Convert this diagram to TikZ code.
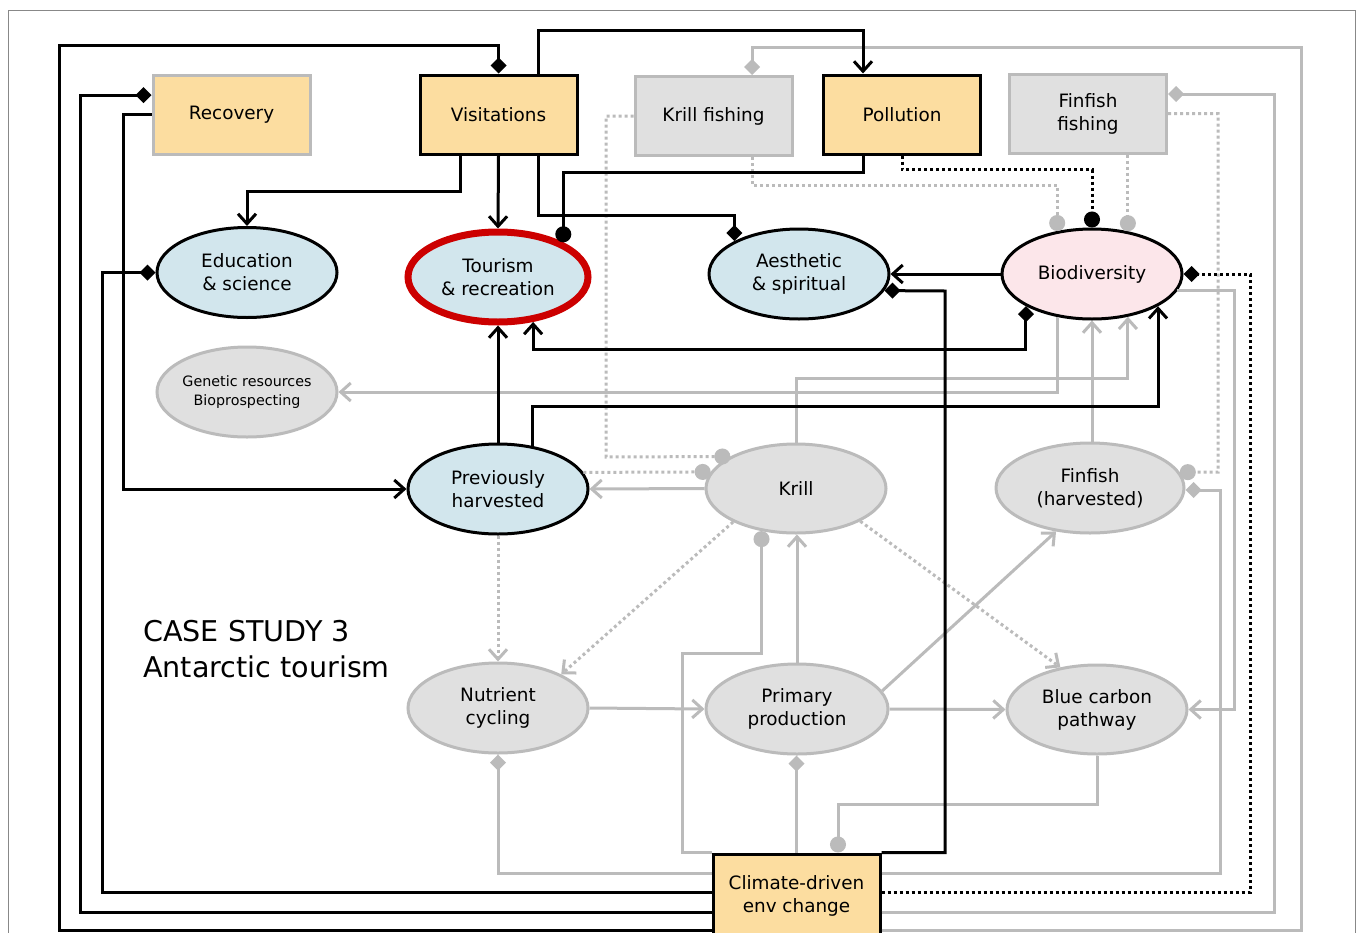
\documentclass[tikz,border=0pt]{standalone}
\usepackage{fontspec}
\setmainfont{DejaVu Sans}
\usetikzlibrary{arrows.meta,shapes.geometric}
\definecolor{orangefill}{HTML}{FCDDA0}
\definecolor{bluefill}{HTML}{D2E6ED}
\definecolor{grayfill}{HTML}{E0E0E0}
\definecolor{pinkfill}{HTML}{FCE6EA}
\definecolor{gline}{HTML}{BBBBBB}
\definecolor{redline}{HTML}{CC0000}
\definecolor{framec}{HTML}{888888}
\begin{document}
\begin{tikzpicture}[x=1pt,y=-1pt]
\tikzset{
 every node/.style={font=\fontsize{18.4}{23}\selectfont, align=center},
 obox/.style={rectangle, fill=orangefill, draw=black, line width=3pt, minimum width=157pt, minimum height=79pt, inner sep=0pt},
 gbox/.style={rectangle, fill=grayfill, draw=gline, line width=3pt, minimum width=157pt, minimum height=79pt, inner sep=0pt},
 bell/.style={ellipse, fill=bluefill, draw=black, line width=3pt, minimum width=180pt, minimum height=90pt, inner sep=0pt},
 gell/.style={ellipse, fill=grayfill, draw=gline, line width=3pt, minimum width=180pt, minimum height=90pt, inner sep=0pt},
 blk/.style={draw=black, line width=3pt},
 gry/.style={draw=gline, line width=3pt},
 dots/.style={dash pattern=on 3pt off 3pt},
 ar/.style={-{Straight Barb[length=10pt,width=18pt]}},
 di/.style={-{Turned Square[length=16pt,width=16pt]}},
 ci/.style={-{Circle[length=16pt]}},
 diar/.style={{Turned Square[length=16pt,width=16pt]}-{Straight Barb[length=10pt,width=18pt]}},
}
\useasboundingbox (0,0) rectangle (1360,932);
\clip (0,0) rectangle (1360,932);
\draw[framec, line width=1pt] (8,945) -- (8,10) -- (1355,10) -- (1355,945);

% boxes
\node[obox, draw=gline] (rec) at (231.5,114.5) {Recovery};
\node[obox] (vis) at (498.5,114.5) {Visitations};
\node[gbox] (kf) at (713.5,116) {Krill fishing};
\node[obox] (pol) at (902,114.5) {Pollution};
\node[gbox] (ff) at (1088,113.5) {Finfish\\fishing};
\node[obox, minimum width=167pt, minimum height=84pt] (clim) at (796.5,896) {Climate-driven\\env change};

% ellipses
\node[bell] (edu) at (247,272.5) {Education\\\& science};
\node[bell, draw=redline, line width=7pt] (tour) at (498,277) {Tourism\\\& recreation};
\node[bell] (aes) at (799,274) {Aesthetic\\\& spiritual};
\node[bell, fill=pinkfill] (bio) at (1092,274) {Biodiversity};
\node[gell, inner xsep=-4pt, font=\fontsize{14.3}{19.5}\selectfont] (gen) at (247,392) {Genetic resources\\Bioprospecting};
\node[bell] (prev) at (498,489) {Previously\\harvested};
\node[gell, minimum height=89pt] (krill) at (796,488.5) {Krill};
\node[gell, minimum width=188pt] (fin) at (1090,488) {Finfish\\(harvested)};
\node[gell] (nut) at (498,708) {Nutrient\\cycling};
\node[gell, minimum width=182pt] (pp) at (797,709) {Primary\\production};
\node[gell, minimum height=89pt] (blue) at (1097,709.5) {Blue carbon\\pathway};

\node[anchor=north west, inner sep=0pt, align=left, font=\fontsize{28.6}{36}\selectfont] (title) at (143,620) {CASE STUDY 3\\Antarctic tourism};

% grey connectors
\draw[gry, di] ([yshift=-34pt]clim.east) -| (1301,47) -| ([xshift=38.5pt]kf.north);
\draw[gry, di] ([yshift=-16pt]clim.east) -| (1274,94) -- ([yshift=19.5pt]ff.east);
\draw[gry, di] ([yshift=23pt]clim.east) -| (1220,490) -- ([yshift=-2pt]fin.east);
\draw[gry, ar] (bio.-11.5) -| (1234,709.5) -- (blue.east);
\draw[gry, dots, ci] (ff.east) -| (1218,472) -- (fin.10);
\draw[gry, dots, ci] (bio.50 |- ff.south) -- (bio.50);
\draw[gry, dots, ci] ([xshift=38.5pt]kf.south) -- ++(0,28) -| (bio.129);
\draw[gry, dots, ci] (kf.west) -| (606,457) -- (krill.154.5);
\draw[gry, dots, ci] (prev.11.5) -- (krill.169);
\draw[gry, ar] (krill.west) -- (prev.east);
\draw[gry, ar] (bio.231) |- (gen.east);
\draw[gry, ar] (krill.north) -- ++(0,-64) -| (bio.-50);
\draw[gry, ar] (fin.north -| bio.south) -- (bio.south);
\draw[gry, ar] (pp.north) -- (pp.north |- krill.south);
\draw[gry, ci] (clim.north west) -| (682,653) -| (krill.231);
\draw[gry, ar] (nut.east) -- (pp.west);
\draw[gry, ar] (pp.east) -- (blue.west);
\draw[gry, ar] (pp.12.5) -- (fin.232);
\draw[gry, di] ([yshift=23pt]clim.west) -| (nut.south);
\draw[gry, di] (clim.north) -- (clim.north |- pp.south);
\draw[gry, ci] (blue.south) -- ++(0,49) -| ([xshift=41.5pt]clim.north);
\draw[gry, dots, ar] (prev.south) -- (nut.north);
\draw[gry, dots, ar] (krill.208) -- (nut.28);
\draw[gry, dots, ar] (krill.-27) -- (blue.131);

% black connectors
\draw[blk, di] ([yshift=-34pt]clim.west) -| (59,45) -| (vis.north);
\draw[blk, di] ([yshift=-16pt]clim.west) -| (80,95) -- ([yshift=19.5pt]rec.west);
\draw[blk, di] ([yshift=4pt]clim.west) -| (102,272.5) -- (edu.west);
\draw[blk, ar] (rec.west) -| (123,489) -- (prev.west);
\draw[blk, ar] ([xshift=-38pt]vis.south) -- ++(0,36) -| (edu.north);
\draw[blk, ar] (vis.south) -- (tour.north);
\draw[blk, di] ([xshift=40pt]vis.south) -- ++(0,60) -| (aes.153);
\draw[blk, ar] ([xshift=40pt]vis.north) -- ++(0,-43) -| ([xshift=-39pt]pol.north);
\draw[blk, ci] ([xshift=-39pt]pol.south) -- ++(0,17) -| (tour.28);
\draw[blk, dots, ci] (pol.south) -- ++(0,14) -| (bio.north);
\draw[blk, ar] (bio.west) -- (aes.east);
\draw[blk, di] (clim.north east) -| (945,291) -- (aes.-11.5);
\draw[blk, diar] (bio.206) -- ++(0,43) -| (tour.-52);
\draw[blk, ar] (prev.north) -- (tour.south);
\draw[blk, ar] (prev.51) -- ++(0,-40) -| (bio.-26);
\draw[blk, dots, di] ([yshift=4pt]clim.east) -| (1250,274) -- (bio.east);
\end{tikzpicture}
\end{document}
